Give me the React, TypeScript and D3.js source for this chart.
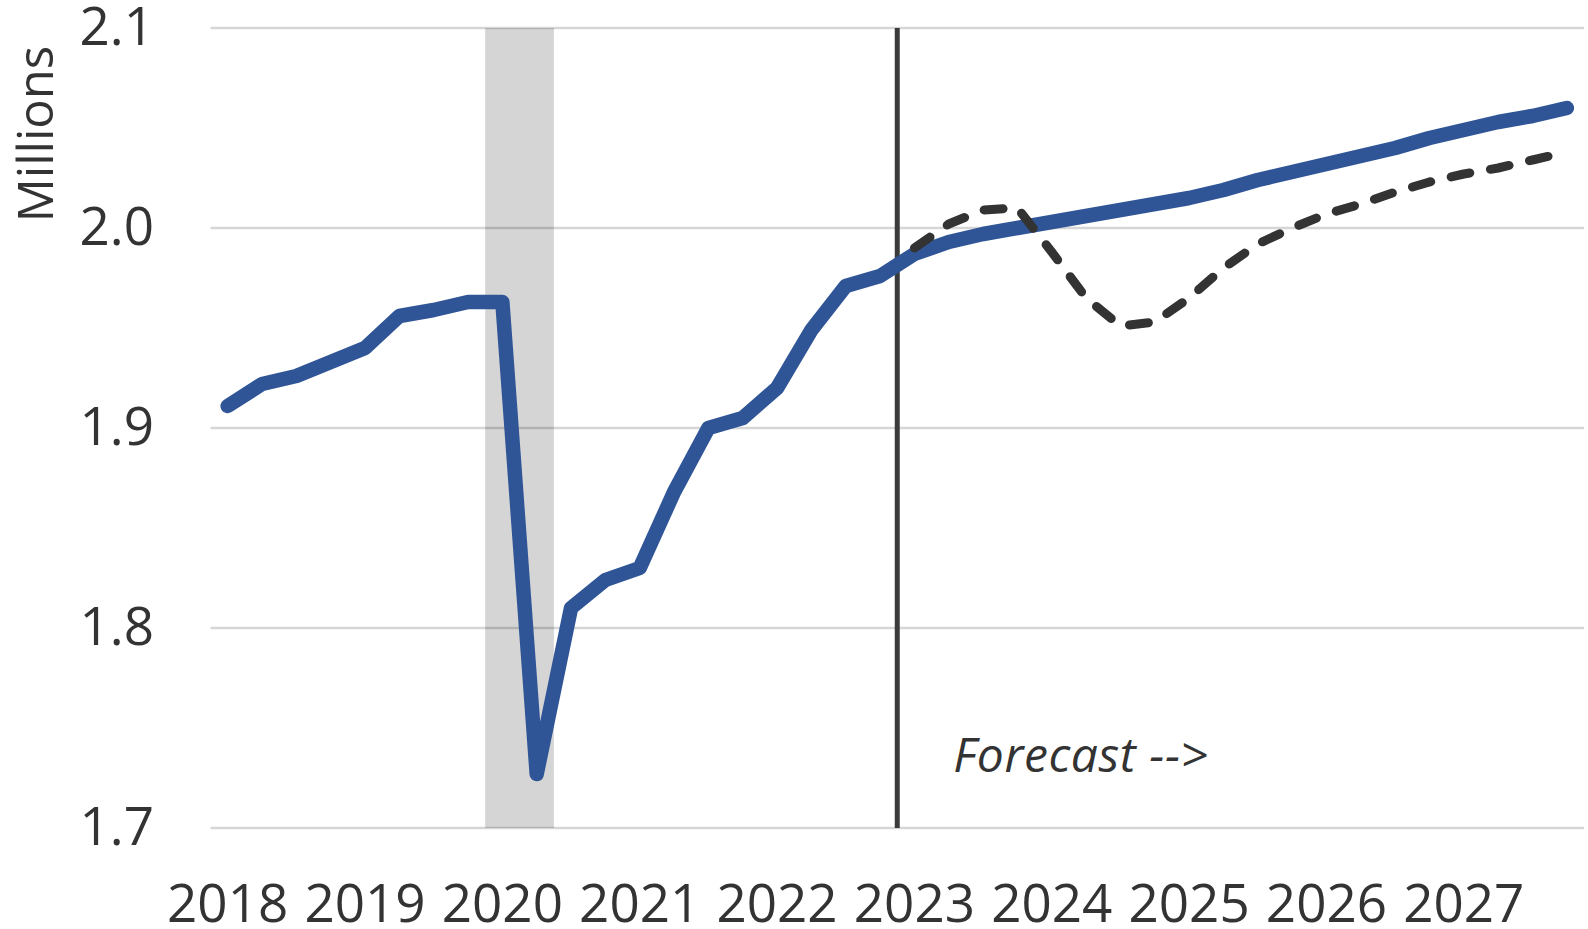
import * as d3 from 'd3';
import React from 'react';

// quarterly categories, 2018Q1 .. 2027Q4
const years = ['2018', '2019', '2020', '2021', '2022', '2023', '2024', '2025', '2026', '2027'];
const quarters = years.flatMap((y) => [`${y}Q1`, `${y}Q2`, `${y}Q3`, `${y}Q4`]);

// millions
const baseline = [
  1.911, 1.922, 1.926, 1.933,
  1.94, 1.956, 1.959, 1.963,
  1.963, 1.727, 1.81, 1.824,
  1.83, 1.868, 1.9, 1.905,
  1.92, 1.949, 1.971, 1.976,
  1.987, 1.993, 1.997, 2.0,
  2.003, 2.006, 2.009, 2.012,
  2.015, 2.019, 2.024, 2.028,
  2.032, 2.036, 2.04, 2.045,
  2.049, 2.053, 2.056, 2.06,
];

// alternative scenario, starts 2023Q1
const scenarioStart = '2023Q1';
const scenario = [
  1.99, 2.002, 2.009, 2.01,
  1.988, 1.965, 1.951, 1.953,
  1.965, 1.98, 1.992, 2.0,
  2.007, 2.012, 2.018, 2.023,
  2.027, 2.03, 2.034, 2.038,
];

const recession = ['2020Q1', '2020Q2'];
const forecastStart = '2023Q1';
const yTicks = [1.7, 1.8, 1.9, 2.0, 2.1];

const width = 1588;
const height = 929;
const font = '"Open Sans", sans-serif';
const textColor = '#333333';

const App: React.FC = () => {
  const x = d3.scaleBand<string>().domain(quarters).range([210.5, 1584]).padding(0);
  const y = d3.scaleLinear().domain([1.7, 2.1]).range([828, 28]);
  const bw = x.bandwidth();
  const cx = (q: string) => (x(q) ?? 0) + bw / 2;

  const line = d3
    .line<[string, number]>()
    .x((d) => cx(d[0]))
    .y((d) => y(d[1]));

  const basePts: [string, number][] = quarters.map((q, i) => [q, baseline[i]]);
  const offset = quarters.indexOf(scenarioStart);
  const scenPts: [string, number][] = scenario.map((v, i) => [quarters[offset + i], v]);

  const recX0 = x(recession[0]) ?? 0;
  const recX1 = (x(recession[recession.length - 1]) ?? 0) + bw;
  const fx = x(forecastStart) ?? 0;

  return (
    <svg
      width={width}
      height={height}
      style={{ position: 'absolute', left: 0, top: 0, display: 'block', background: '#fff' }}
      fontFamily={font}
    >
      <rect x={recX0} y={y(2.1)} width={recX1 - recX0} height={y(1.7) - y(2.1)} fill="#d5d5d5" />

      {yTicks.map((t) => (
        <g key={`grid-${t}`}>
          <line x1={210.5} x2={1584} y1={y(t)} y2={y(t)} stroke="#000" strokeOpacity={0.16} strokeWidth={2.6} />
          <text x={154} y={y(t) + 17} textAnchor="end" fontSize={53} fill={textColor}>
            {t.toFixed(1)}
          </text>
        </g>
      ))}

      <line x1={fx} x2={fx} y1={y(2.1)} y2={y(1.7)} stroke="#3a3a3a" strokeWidth={5} />

      <path d={line(basePts) ?? ''} fill="none" stroke="#2f5597" strokeWidth={14.5} strokeLinejoin="round" strokeLinecap="round" />
      <path
        d={line(scenPts) ?? ''}
        fill="none"
        stroke="#333333"
        strokeWidth={9}
        strokeDasharray="19 21"
        strokeLinecap="round"
        strokeLinejoin="round"
      />

      <text x={fx + 56} y={y(1.7) - 56} fontSize={48} letterSpacing={0.6} fontStyle="italic" fill={textColor}>
        Forecast --&gt;
      </text>

      {years.map((yr) => (
        <text key={yr} x={cx(`${yr}Q1`)} y={922} textAnchor="middle" fontSize={53} fill={textColor}>
          {yr}
        </text>
      ))}

      <text transform="translate(53,134) rotate(-90)" textAnchor="middle" fontSize={49} fill={textColor}>
        Millions
      </text>
    </svg>
  );
};

export default App;
